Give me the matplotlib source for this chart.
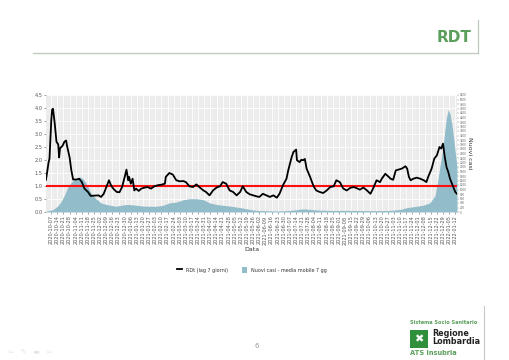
import numpy as np
import matplotlib
matplotlib.use('Agg')
import matplotlib.pyplot as plt
import matplotlib.dates as mdates
from matplotlib.lines import Line2D
from matplotlib.patches import Patch, Rectangle

# giorni dal 2020-10-01
inizio = np.datetime64('2020-10-01')

rdt_giorni = [0, 3, 4, 6, 7, 8, 10, 12, 14, 15, 16, 19, 21, 23, 24, 27, 29, 31, 35, 38,
              41, 44, 48, 51, 55, 60, 63, 66, 69, 72, 74, 76, 78, 81, 84, 87, 90, 92, 94, 95,
              97, 99, 101, 103, 106, 109, 113, 116, 120, 124, 128, 132, 136, 137, 141, 145, 149, 153, 157, 160,
              164, 168, 172, 176, 180, 183, 187, 191, 195, 199, 202, 206, 210, 214, 218, 222, 225, 229, 233, 237,
              241, 244, 248, 252, 256, 260, 264, 267, 271, 275, 277, 279, 281, 283, 286, 287, 290, 292, 294, 296,
              298, 302, 306, 309, 313, 317, 321, 325, 329, 332, 336, 340, 344, 348, 352, 355, 359, 363, 367, 371,
              374, 378, 382, 384, 388, 392, 394, 397, 400, 403, 407, 411, 413, 415, 417, 420, 424, 428, 432, 435,
              437, 441, 444, 447, 450, 452, 454, 456, 458, 460, 462, 465, 468, 470]
rdt_valori = [1.24, 1.92, 2.05, 3.5, 3.94, 3.97, 3.4, 2.7, 2.6, 2.1, 2.45, 2.55, 2.7, 2.75, 2.55, 2.1, 1.6, 1.25, 1.25, 1.28,
              1.15, 0.9, 0.77, 0.62, 0.63, 0.64, 0.58, 0.7, 0.96, 1.22, 1.05, 0.94, 0.86, 0.77, 0.76, 0.96, 1.35, 1.63, 1.22, 1.35,
              1.09, 1.28, 0.83, 0.9, 0.81, 0.9, 0.94, 0.96, 0.9, 0.99, 1.03, 1.05, 1.09, 1.35, 1.5, 1.44, 1.22, 1.18, 1.19, 1.15,
              0.99, 0.96, 1.06, 0.94, 0.83, 0.77, 0.64, 0.83, 0.94, 0.99, 1.15, 1.09, 0.83, 0.77, 0.64, 0.77, 0.99, 0.77, 0.68, 0.64,
              0.6, 0.58, 0.7, 0.64, 0.58, 0.64, 0.55, 0.7, 1.03, 1.28, 1.6, 1.86, 2.12, 2.31, 2.4, 1.99, 1.92, 2.01, 1.99, 2.04,
              1.67, 1.35, 0.99, 0.83, 0.77, 0.73, 0.83, 0.96, 0.99, 1.22, 1.15, 0.9, 0.83, 0.93, 0.96, 0.92, 0.86, 0.94, 0.83, 0.7,
              0.9, 1.22, 1.15, 1.28, 1.47, 1.35, 1.28, 1.24, 1.6, 1.63, 1.67, 1.76, 1.67, 1.35, 1.22, 1.28, 1.32, 1.28, 1.22, 1.15,
              1.35, 1.67, 2.05, 2.18, 2.5, 2.44, 2.63, 2.12, 1.73, 1.54, 1.28, 1.03, 0.77, 0.7]

casi_giorni = [0, 8, 13, 17, 21, 25, 29, 32, 36, 39, 42, 45, 48, 52, 57, 63, 69, 74, 80, 86,
               92, 97, 103, 111, 118, 126, 134, 141, 149, 157, 164, 172, 180, 187, 195, 202, 210, 218, 225, 233,
               241, 248, 264, 279, 287, 294, 302, 309, 325, 348, 374, 394, 405, 413, 424, 432, 439, 445, 448, 451,
               454, 457, 458, 460, 462, 464, 466, 468, 470]
casi_valori = [35, 105, 255, 440, 740, 1110, 1330, 1435, 1515, 1560, 1480, 1330, 1110, 810, 590, 405, 335, 300, 255, 300,
               335, 325, 300, 265, 255, 255, 300, 405, 440, 545, 590, 590, 545, 405, 335, 300, 265, 220, 175, 115,
               70, 60, 45, 70, 105, 140, 115, 90, 70, 70, 60, 70, 115, 195, 255, 310, 405, 740, 1410, 2150,
               2890, 3930, 4220, 4550, 4370, 3930, 3330, 2670, 2000]

rdt_max = 4.5
casi_max = 5200

verde = '#5c9e5c'
azzurro = '#93bccb'


def px(x, y):
    return x / 510, 1 - y / 360


fig = plt.figure(figsize=(5.1, 3.6), dpi=100)
fig.patch.set_facecolor('white')

ax = fig.add_axes([46 / 510, 1 - 212 / 360, 411 / 510, 117 / 360])
ax.set_facecolor('#ebebeb')

x_rdt = mdates.date2num(inizio + np.array(rdt_giorni).astype('timedelta64[D]'))
x_casi = mdates.date2num(inizio + np.array(casi_giorni).astype('timedelta64[D]'))
casi_scala = np.array(casi_valori) * rdt_max / casi_max

ax.fill_between(x_casi, 0, casi_scala, color=azzurro, lw=0, zorder=2)
ax.axhline(1.0, color='#ff1010', lw=1.5, zorder=3)
ax.plot(x_rdt, rdt_valori, color='black', lw=1.3, zorder=4)

ax.set_xlim(x_rdt[0], x_rdt[-1])
ax.set_ylim(0, rdt_max)

tick_date = np.arange(np.datetime64('2020-10-07'), np.datetime64('2022-01-13'), np.timedelta64(7, 'D'))
tick_x = mdates.date2num(tick_date)
ax.set_xticks(tick_x)
ax.set_xticks(tick_x[:-1] + 3.5, minor=True)
ax.xaxis.set_major_formatter(mdates.DateFormatter('%Y-%m-%d'))
ax.set_yticks(np.arange(0, 4.6, 0.5))
ax.set_yticks(np.arange(0.25, 4.5, 0.5), minor=True)
ax.set_yticklabels(['%.1f' % v for v in np.arange(0, 4.6, 0.5)])

ax.set_axisbelow(True)
ax.grid(which='major', color='white', lw=0.6)
ax.grid(which='minor', color='#f5f5f5', lw=0.3)
for s in ax.spines.values():
    s.set_visible(False)
ax.tick_params(axis='both', which='major', length=1.5, width=0.4, color='#555555',
               labelsize=3.6, labelcolor='#555555', pad=1)
ax.tick_params(axis='both', which='minor', length=0)
plt.setp(ax.get_xticklabels(), rotation=90)
ax.set_xlabel('Data', fontsize=4.5, color='#333333', labelpad=1.5)

sec = ax.secondary_yaxis('right', functions=(lambda v: v * casi_max / rdt_max,
                                             lambda c: c * rdt_max / casi_max))
sec.set_yticks(np.arange(0, casi_max + 1, 200))
sec.tick_params(length=1.2, width=0.3, color='#777777', labelsize=2.0, labelcolor='#666666', pad=0.8)
sec.spines['right'].set_visible(False)
sec.set_ylabel('Nuovi casi', rotation=-90, fontsize=4.5, color='#333333', labelpad=4)

handles = [Line2D([], [], color='black', lw=1.3), Patch(facecolor=azzurro, edgecolor='none')]
fig.legend(handles, ['RDt (lag 7 giorni)', 'Nuovi casi - media mobile 7 gg'],
           loc='center', bbox_to_anchor=px(252, 270), ncol=2, frameon=False,
           fontsize=3.5, handlelength=1.0, handleheight=1.6, columnspacing=3.0,
           labelcolor='#333333')

# intestazione della slide
fig.text(*px(471, 37), 'RDT', ha='right', va='center', fontsize=11, fontweight='bold', color=verde)
fig.add_artist(Line2D([33 / 510, 478 / 510], [1 - 53 / 360] * 2, color='#bccabc', lw=0.9))
fig.add_artist(Line2D([478 / 510] * 2, [1 - 20 / 360, 1 - 53 / 360], color='#bccabc', lw=0.9))

# piè di pagina
fig.text(*px(257, 346), '6', ha='center', va='center', fontsize=5, color='#999999')
fig.text(*px(8, 352), '⇦   ✎   ▬   ⇨', ha='left', va='center', fontsize=5, color='#e4e4e4')

fig.text(*px(410, 323), 'Sistema Socio Sanitario', ha='left', va='center', fontsize=3.6,
         fontweight='bold', color=verde)
fig.add_artist(Rectangle(px(410, 348), 18 / 510, 18 / 360, transform=fig.transFigure,
                         facecolor='#2f8f3a', edgecolor='none'))
fig.text(*px(419, 339), '✖', ha='center', va='center', fontsize=8, color='white')
fig.text(*px(432, 333), 'Regione', ha='left', va='center', fontsize=5.8, fontweight='bold', color='#222222')
fig.text(*px(432, 342), 'Lombardia', ha='left', va='center', fontsize=5.8, fontweight='bold', color='#222222')
fig.text(*px(410, 353), 'ATS Insubria', ha='left', va='center', fontsize=4.8, fontweight='bold', color=verde)
fig.add_artist(Line2D([484 / 510] * 2, [1 - 306 / 360, 0], color='#c8c8c8', lw=0.8))

fig.savefig('out.png', dpi=100, facecolor='white')
